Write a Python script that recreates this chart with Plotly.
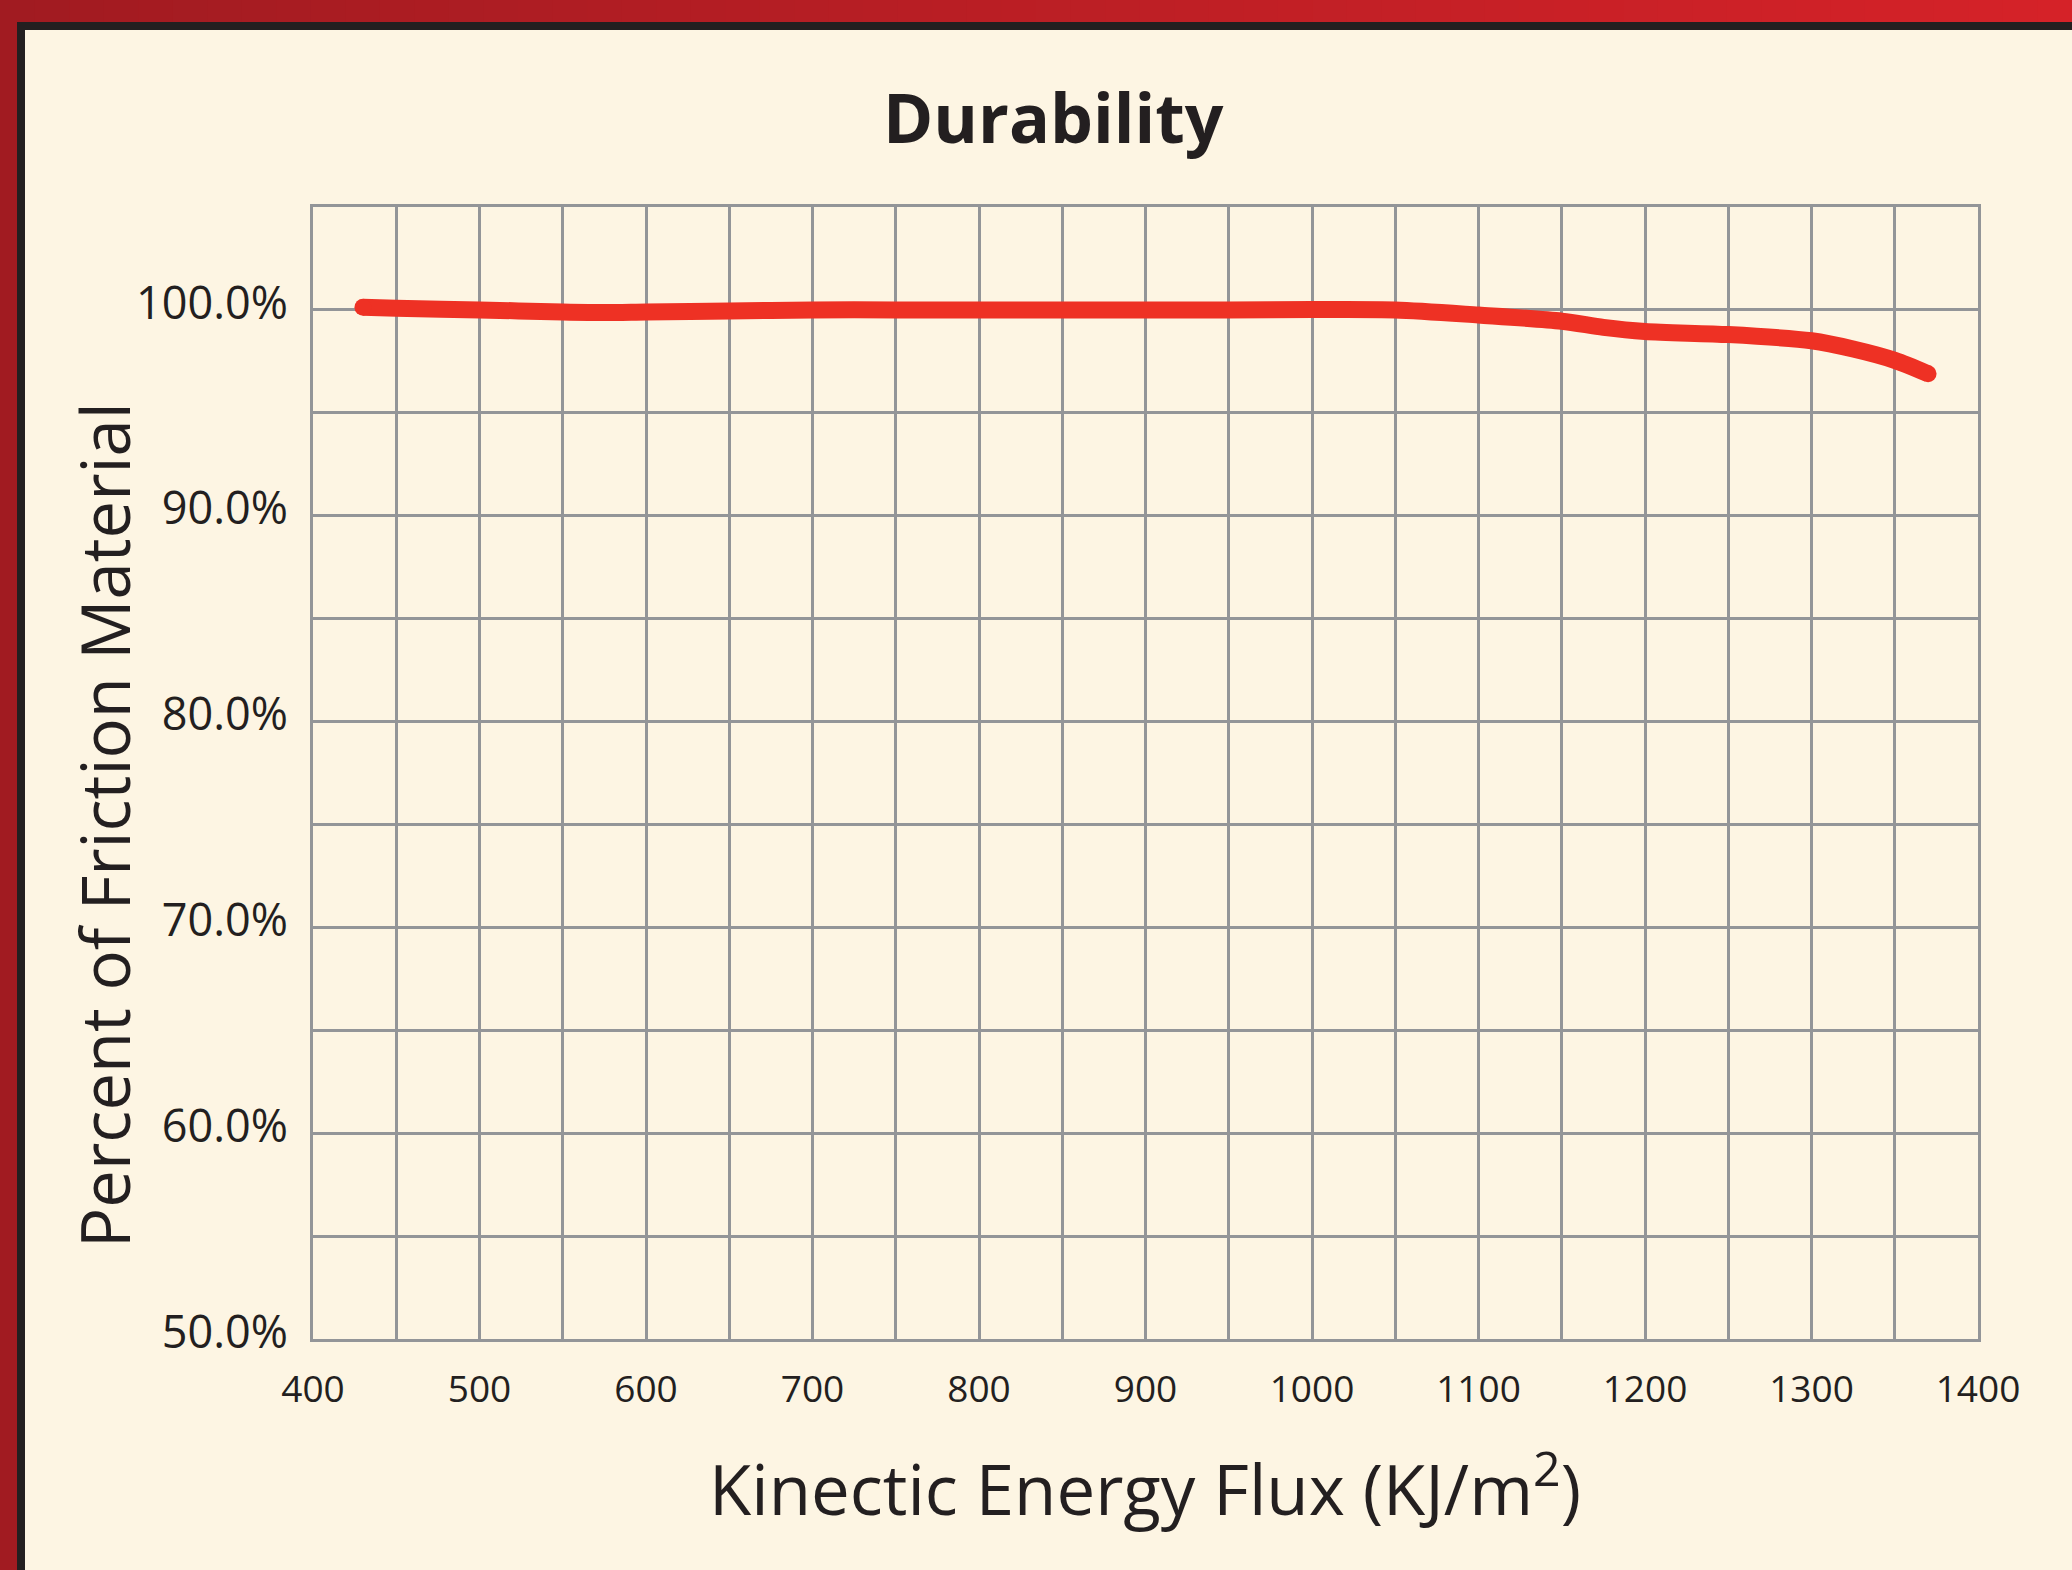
import plotly.graph_objects as go

# ---- data ----
energy_flux = [430, 450, 500, 550, 575, 600, 650, 700, 750, 800, 850, 900, 950,
               1000, 1050, 1100, 1150, 1175, 1200, 1250, 1300, 1325, 1350, 1370]
percent_material = [100.13, 100.08, 100.0, 99.9, 99.87, 99.9, 99.95, 100.0, 100.0, 100.0,
                    100.0, 100.0, 100.0, 100.02, 100.0, 99.75, 99.45, 99.15, 98.95,
                    98.8, 98.5, 98.1, 97.55, 96.9]
x_ticks = [400, 500, 600, 700, 800, 900, 1000, 1100, 1200, 1300, 1400]
y_ticks = [50, 60, 70, 80, 90, 100]
y_tick_labels = ["50.0%", "60.0%", "70.0%", "80.0%", "90.0%", "100.0%"]

title_text = "Durability"
x_title = "Kinectic Energy Flux (KJ/m<sup>2</sup>)"
y_title = "Percent of Friction Material"

# ---- style ----
W, H = 2072, 1570
ML, MR, MT, MB = 313, 94, 207, 231
PW, PH = W - ML - MR, H - MT - MB
CREAM = "#FDF5E3"
GRID = "#939598"
LINE_RED = "#EE3124"
TEXT = "#231F20"
FONT = "Open Sans"


def xp(px):
    return (px - ML) / PW


def yp(py):
    return (H - MB - py) / PH


fig = go.Figure()
fig.add_trace(go.Scatter(
    x=energy_flux, y=percent_material, mode="lines",
    line=dict(color=LINE_RED, width=17, shape="spline", smoothing=0.8),
    showlegend=False, hoverinfo="skip"))
# round end caps
fig.add_trace(go.Scatter(
    x=[energy_flux[0], energy_flux[-1]], y=[percent_material[0], percent_material[-1]],
    mode="markers", marker=dict(color=LINE_RED, size=17, line=dict(width=0)),
    showlegend=False, hoverinfo="skip"))

shapes = []
# left red band
shapes.append(dict(type="rect", xref="paper", yref="paper", x0=xp(0), x1=xp(17),
                   y0=yp(H), y1=yp(0), fillcolor="#A11B21", line=dict(width=0), layer="above"))
# top red band gradient (stepped)
n = 60
c0 = (0xA1, 0x1B, 0x21)
c1 = (0xD5, 0x22, 0x28)
for i in range(n):
    t = i / (n - 1)
    col = "rgb(%d,%d,%d)" % tuple(round(a + (b - a) * t) for a, b in zip(c0, c1))
    shapes.append(dict(type="rect", xref="paper", yref="paper",
                       x0=xp(W * i / n), x1=xp(W * (i + 1) / n + 1),
                       y0=yp(22), y1=yp(0), fillcolor=col, line=dict(width=0), layer="above"))
# dark inner line
shapes.append(dict(type="rect", xref="paper", yref="paper", x0=xp(17), x1=xp(25),
                   y0=yp(H), y1=yp(22), fillcolor=TEXT, line=dict(width=0), layer="above"))
shapes.append(dict(type="rect", xref="paper", yref="paper", x0=xp(17), x1=xp(W),
                   y0=yp(30), y1=yp(22), fillcolor=TEXT, line=dict(width=0), layer="above"))

annotations = [
    dict(text="<b>%s</b>" % title_text, xref="paper", yref="paper", x=xp(1053), y=yp(116),
         xanchor="center", yanchor="middle", showarrow=False,
         font=dict(family=FONT, size=68, color=TEXT)),
    dict(text=y_title, xref="paper", yref="paper", x=xp(104), y=yp(825),
         xanchor="center", yanchor="middle", showarrow=False, textangle=-90,
         font=dict(family=FONT, size=67, color=TEXT)),
    dict(text=x_title, xref="paper", yref="paper", x=xp(1145), y=yp(1484),
         xanchor="center", yanchor="middle", showarrow=False,
         font=dict(family=FONT, size=69, color=TEXT)),
]

fig.update_layout(
    width=W, height=H,
    margin=dict(l=ML, r=MR, t=MT, b=MB, pad=0),
    paper_bgcolor=CREAM, plot_bgcolor=CREAM,
    shapes=shapes, annotations=annotations, showlegend=False,
    xaxis=dict(range=[400, 1400], tickvals=x_ticks, ticktext=[str(v) for v in x_ticks],
               showgrid=True, gridcolor=GRID, gridwidth=3,
               minor=dict(dtick=50, showgrid=True, gridcolor=GRID, gridwidth=3),
               showline=True, linecolor=GRID, linewidth=3, mirror=True,
               ticks="", zeroline=False, ticklabelstandoff=16,
               tickfont=dict(family=FONT, size=37, color=TEXT)),
    yaxis=dict(range=[50, 105], tickvals=y_ticks, ticktext=y_tick_labels,
               showgrid=True, gridcolor=GRID, gridwidth=3,
               minor=dict(dtick=5, showgrid=True, gridcolor=GRID, gridwidth=3),
               showline=True, linecolor=GRID, linewidth=3, mirror=True,
               ticks="", zeroline=False, ticklabelstandoff=13, ticklabelshift=-7,
               tickfont=dict(family=FONT, size=45, color=TEXT)),
)

fig.write_html("out.html", config={"displayModeBar": False},
               post_script="document.body.style.margin='0';document.body.style.overflow='hidden';")
